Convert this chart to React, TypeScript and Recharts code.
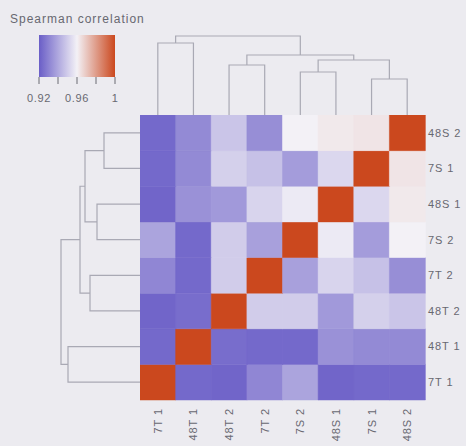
import {
  BarChart, Bar, Cell, XAxis, YAxis, ScatterChart, Scatter, ReferenceArea,
} from 'recharts';

// leaf order (same for columns left->right and rows bottom->top)
const SAMPLES = ['7T 1', '48T 1', '48T 2', '7T 2', '7S 2', '48S 1', '7S 1', '48S 2'];

// Spearman correlation, one row per sample, columns in SAMPLES order
const ROW_7T1 = [1, 0.923, 0.922, 0.931, 0.939, 0.922, 0.923, 0.923];
const ROW_48T1 = [0.923, 1, 0.924, 0.923, 0.923, 0.934, 0.932, 0.932];
const ROW_48T2 = [0.922, 0.924, 1, 0.95, 0.95, 0.936, 0.951, 0.948];
const ROW_7T2 = [0.931, 0.923, 0.95, 1, 0.938, 0.952, 0.947, 0.933];
const ROW_7S2 = [0.939, 0.923, 0.95, 0.938, 1, 0.958, 0.937, 0.96];
const ROW_48S1 = [0.922, 0.934, 0.936, 0.952, 0.958, 1, 0.953, 0.962];
const ROW_7S1 = [0.923, 0.932, 0.951, 0.947, 0.937, 0.953, 1, 0.963];
const ROW_48S2 = [0.923, 0.932, 0.948, 0.933, 0.96, 0.962, 0.963, 1];
const CORR = [ROW_7T1, ROW_48T1, ROW_48T2, ROW_7T2, ROW_7S2, ROW_48S1, ROW_7S1, ROW_48S2];

// hierarchical clustering merges (distance heights)
const MERGES = [
  { id: 'A', left: '7T 1', right: '48T 1', height: 0.072 },
  { id: 'B', left: '48T 2', right: '7T 2', height: 0.05 },
  { id: 'C', left: '7S 2', right: '48S 1', height: 0.043 },
  { id: 'D', left: '7S 1', right: '48S 2', height: 0.036 },
  { id: 'E', left: 'C', right: 'D', height: 0.055 },
  { id: 'F', left: 'B', right: 'E', height: 0.06 },
  { id: 'G', left: 'A', right: 'F', height: 0.079 },
];

const LEGEND_TICKS = [0.92, 0.94, 0.96, 0.98, 1];
const LEGEND_LABELS: Record<number, string> = { 0.92: '0.92', 0.96: '0.96', 1: '1' };

const LOW = [106, 94, 199];
const MID = [243, 241, 246];
const HIGH = [203, 72, 30];
const TEXT = '#686870';
const LINE = '#a9a9b4';
const FONT = '"Liberation Sans", Arial, sans-serif';

const corrColor = (v: number) => {
  let a = LOW, b = MID, t = (v - 0.92) / 0.04;
  if (v > 0.96) { a = MID; b = HIGH; t = (v - 0.96) / 0.04; }
  t = Math.max(0, Math.min(1, t));
  const c = a.map((x, i) => Math.round(x + (b[i] - x) * t));
  return `rgb(${c[0]},${c[1]},${c[2]})`;
};

const dendroLinks = () => {
  const pos: Record<string, number> = {};
  const hgt: Record<string, number> = {};
  SAMPLES.forEach((s, i) => { pos[s] = i + 0.5; hgt[s] = 0; });
  return MERGES.map((m) => {
    const pl = pos[m.left], pr = pos[m.right];
    const pts = [
      { p: pl, h: hgt[m.left] },
      { p: pl, h: m.height },
      { p: pr, h: m.height },
      { p: pr, h: hgt[m.right] },
    ];
    pos[m.id] = (pl + pr) / 2;
    hgt[m.id] = m.height;
    return { id: m.id, pts };
  });
};

const NoDot = () => <g />;

const cellData = SAMPLES.map((s) => {
  const d: Record<string, any> = { name: s };
  SAMPLES.forEach((_, ri) => { d[`r${ri}`] = 1; });
  return d;
});

const BottomTick = ({ x, y, payload }: any) => (
  <text
    transform={`translate(${x},${y}) rotate(-90)`}
    textAnchor="end"
    dy="0.36em"
    fill={TEXT}
    fontSize={11}
    fontFamily={FONT}
    letterSpacing={0.9}
  >
    {payload.value}
  </text>
);

export default function App() {
  const links = dendroLinks();
  return (
    <div style={{ position: 'absolute', left: 0, top: 0, width: 466, height: 446, background: '#ecebf0', fontFamily: FONT }}>
      <svg width={0} height={0} style={{ position: 'absolute' }}>
        <defs>
          <linearGradient id="legendGrad" x1="0" y1="0" x2="1" y2="0">
            <stop offset="0%" stopColor={corrColor(0.92)} />
            <stop offset="50%" stopColor={corrColor(0.96)} />
            <stop offset="100%" stopColor={corrColor(1)} />
          </linearGradient>
        </defs>
      </svg>

      <div style={{ position: 'absolute', left: 10, top: 12, fontSize: 12, color: TEXT, letterSpacing: 1, whiteSpace: 'nowrap' }}>
        Spearman correlation
      </div>

      <div style={{ position: 'absolute', left: 19, top: 35 }}>
        <ScatterChart width={116} height={76} margin={{ top: 0, right: 20, bottom: 0, left: 20 }}>
          <XAxis
            type="number"
            dataKey="x"
            domain={[0.92, 1]}
            ticks={LEGEND_TICKS}
            tickFormatter={(v: number) => LEGEND_LABELS[v] ?? ''}
            axisLine={false}
            tickLine={{ stroke: '#6a6a72' }}
            tickSize={7}
            tickMargin={10}
            height={34}
            interval={0}
            tick={{ fill: TEXT, fontSize: 11, fontFamily: FONT, letterSpacing: 0.6 }}
          />
          <YAxis type="number" dataKey="y" domain={[0, 1]} hide />
          <ReferenceArea x1={0.92} x2={1} y1={0} y2={1} fill="url(#legendGrad)" fillOpacity={1} stroke="none" />
          <Scatter data={LEGEND_TICKS.map((t) => ({ x: t, y: 0 }))} shape={NoDot} isAnimationActive={false} />
        </ScatterChart>
      </div>

      {/* top dendrogram */}
      <div style={{ position: 'absolute', left: 140, top: 30 }}>
        <ScatterChart width={285} height={85} margin={{ top: 0, right: 0, bottom: 0, left: 0 }}>
          <XAxis type="number" dataKey="p" domain={[0, 8]} hide />
          <YAxis type="number" dataKey="h" domain={[0, 0.085]} hide />
          {links.map((l) => (
            <Scatter key={l.id} data={l.pts} line={{ stroke: LINE, strokeWidth: 1.2 }} lineType="joint" shape={NoDot} isAnimationActive={false} />
          ))}
        </ScatterChart>
      </div>

      {/* left dendrogram */}
      <div style={{ position: 'absolute', left: 55, top: 115 }}>
        <ScatterChart width={85} height={285} margin={{ top: 0, right: 0, bottom: 0, left: 0 }}>
          <XAxis type="number" dataKey="h" domain={[0, 0.085]} reversed hide />
          <YAxis type="number" dataKey="p" domain={[0, 8]} hide />
          {links.map((l) => (
            <Scatter key={l.id} data={l.pts} line={{ stroke: LINE, strokeWidth: 1.2 }} lineType="joint" shape={NoDot} isAnimationActive={false} />
          ))}
        </ScatterChart>
      </div>

      {/* heatmap */}
      <div style={{ position: 'absolute', left: 140, top: 115 }}>
        <BarChart width={326} height={331} data={cellData} barCategoryGap={0} barGap={0} margin={{ top: 0, right: 0, bottom: 0, left: 0 }}>
          <XAxis dataKey="name" interval={0} tickLine={false} axisLine={false} height={46} tick={<BottomTick />} />
          <YAxis
            orientation="right"
            type="number"
            domain={[0, 8]}
            ticks={SAMPLES.map((_, i) => i + 0.5)}
            tickFormatter={(v: number) => SAMPLES[Math.floor(v)]}
            width={41}
            tickLine={false}
            axisLine={false}
            tickSize={2}
            tickMargin={1}
            interval={0}
            tick={{ fill: TEXT, fontSize: 11, fontFamily: FONT, letterSpacing: 0.9 }}
          />
          {SAMPLES.map((row, ri) => (
            <Bar key={row} dataKey={`r${ri}`} stackId="cells" isAnimationActive={false}>
              {SAMPLES.map((col, ci) => {
                const c = corrColor(CORR[ri][ci]);
                return <Cell key={col} fill={c} stroke={c} strokeWidth={0.5} />;
              })}
            </Bar>
          ))}
        </BarChart>
      </div>
    </div>
  );
}
